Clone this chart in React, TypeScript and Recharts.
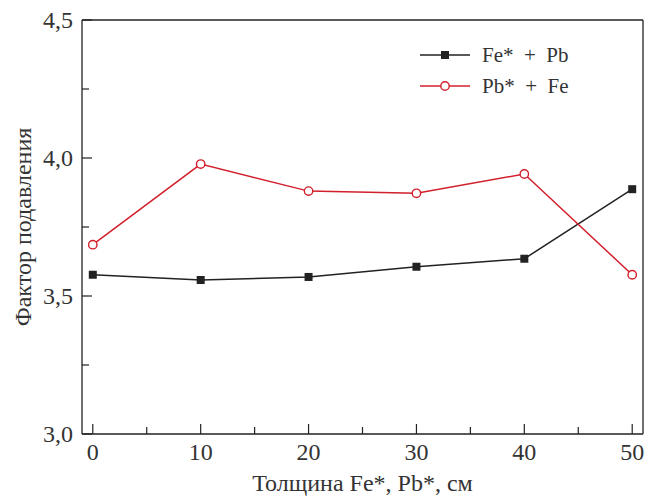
import { LineChart, Line, XAxis, YAxis, ReferenceLine } from "recharts";

const thickness = [0, 10, 20, 30, 40, 50];
const feStarPb = [3.577, 3.558, 3.569, 3.606, 3.635, 3.887];
const pbStarFe = [3.686, 3.978, 3.88, 3.872, 3.942, 3.577];
const xTicks = [0, 5, 10, 15, 20, 25, 30, 35, 40, 45, 50];
const yTicks = [3, 3.25, 3.5, 3.75, 4, 4.25, 4.5];

const data = thickness.map((t, i) => ({ t, fe: feStarPb[i], pb: pbStarFe[i] }));

const FONT = '"Liberation Serif", "Times New Roman", Times, serif';
const RED = "#d2202c";
const BLACK = "#222";

function XTick(props: any) {
  const { x, y, payload } = props;
  const major = payload.value % 10 === 0;
  return (
    <g>
      <line x1={x} y1={y} x2={x} y2={y - (major ? 10 : 7)} stroke={BLACK} strokeWidth={1.2} />
      {major && (
        <text x={x} y={y + 26} textAnchor="middle" fontSize={24} fill="#333" fontFamily={FONT}>
          {payload.value}
        </text>
      )}
    </g>
  );
}

function YTick(props: any) {
  const { x, y, payload } = props;
  const major = (payload.value * 2) % 1 === 0;
  return (
    <g>
      <line x1={x} y1={y} x2={x + (major ? 10 : 7)} y2={y} stroke={BLACK} strokeWidth={1.2} />
      {major && (
        <text x={x - 9} y={y + 8} textAnchor="end" fontSize={24} fill="#333" fontFamily={FONT}>
          {payload.value.toFixed(1).replace(".", ",")}
        </text>
      )}
    </g>
  );
}

function SquareDot(props: any) {
  const { cx, cy, index } = props;
  return <rect key={index} x={cx - 4} y={cy - 4} width={8} height={8} fill={BLACK} />;
}

function CircleDot(props: any) {
  const { cx, cy, index } = props;
  return <circle key={index} cx={cx} cy={cy} r={4.2} fill="#fff" stroke={RED} strokeWidth={1.4} />;
}

function LegendBox() {
  const rows = [
    { label: "Fe*\u2002+\u2002Pb", color: BLACK, square: true },
    { label: "Pb*\u2002+\u2002Fe", color: RED, square: false },
  ];
  return (
    <svg width={200} height={70} style={{ position: "absolute", left: 418, top: 43 }}>
      {rows.map((r, i) => {
        const y = 12 + i * 31;
        return (
          <g key={r.label}>
            <line x1={2} y1={y} x2={52} y2={y} stroke={r.color} strokeWidth={1.5} />
            {r.square ? (
              <rect x={23} y={y - 4} width={8} height={8} fill={r.color} />
            ) : (
              <circle cx={27} cy={y} r={4.2} fill="#fff" stroke={r.color} strokeWidth={1.4} />
            )}
            <text x={64} y={y + 7} fontSize={21} fill="#333" fontFamily={FONT}>
              {r.label}
            </text>
          </g>
        );
      })}
    </svg>
  );
}

export default function App() {
  return (
    <div
      style={{ position: "fixed", left: 0, top: 0, width: 646, height: 498, background: "#fff", fontFamily: FONT }}
    >
      <LineChart width={646} height={498} data={data} margin={{ top: 20, right: 3, bottom: 0, left: 0 }}>
        <XAxis
          dataKey="t"
          type="number"
          domain={[-1, 51]}
          ticks={xTicks}
          tick={<XTick />}
          tickLine={false}
          tickSize={0}
          tickMargin={0}
          height={64}
          axisLine={{ stroke: BLACK, strokeWidth: 1.3 }}
          interval={0}
          label={{
            value: "Толщина Fe*, Pb*, см",
            position: "insideBottom",
            offset: 7,
            fontSize: 24,
            fill: "#333",
            fontFamily: FONT,
          }}
        />
        <YAxis
          type="number"
          domain={[3, 4.5]}
          ticks={yTicks}
          tick={<YTick />}
          tickLine={false}
          tickSize={0}
          tickMargin={0}
          width={82}
          axisLine={{ stroke: BLACK, strokeWidth: 1.3 }}
          interval={0}
          label={{
            value: "Фактор подавления",
            angle: -90,
            position: "insideLeft",
            offset: 22,
            fontSize: 24,
            fill: "#333",
            fontFamily: FONT,
            style: { textAnchor: "middle" },
          }}
        />
        <ReferenceLine y={4.5} stroke={BLACK} strokeWidth={1.3} />
        <ReferenceLine x={51} stroke={BLACK} strokeWidth={1.3} />
        <Line
          dataKey="fe"
          stroke={BLACK}
          strokeWidth={1.5}
          dot={<SquareDot />}
          activeDot={false}
          isAnimationActive={false}
        />
        <Line
          dataKey="pb"
          stroke={RED}
          strokeWidth={1.5}
          dot={<CircleDot />}
          activeDot={false}
          isAnimationActive={false}
        />
      </LineChart>
      <LegendBox />
    </div>
  );
}
